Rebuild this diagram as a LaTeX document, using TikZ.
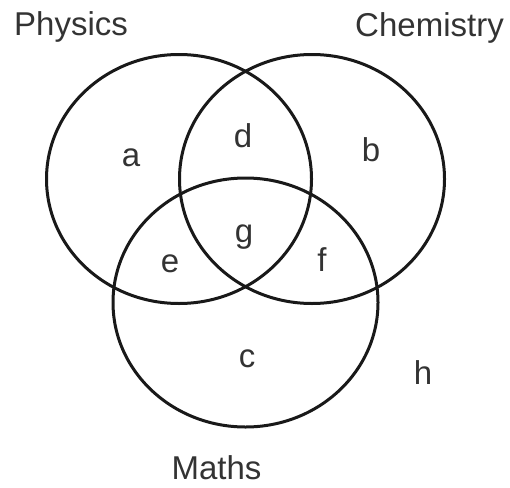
\documentclass[tikz,border=0pt]{standalone}
\usepackage{fontspec}
\setmainfont{Liberation Sans}
\begin{document}
\begin{tikzpicture}[x=1pt,y=-1pt,
  setline/.style={line width=3pt,black!90},
  lbl/.style={inner sep=0pt,anchor=base,font=\fontsize{33}{36}\selectfont,text=black!80}]
\useasboundingbox (0,0) rectangle (510,487);
% sets
\draw[setline] (179,179) ellipse [x radius=132.5, y radius=124.5];
\draw[setline] (312,179) ellipse [x radius=132.5, y radius=124.5];
\draw[setline] (245.5,302.5) ellipse [x radius=132.5, y radius=124.5];
% set names
\node[lbl] (phys) at (71,36) {Physics};
\node[lbl] (chem) at (429.5,37) {Chemistry};
\node[lbl] (math) at (216.5,479) {Maths};
% regions
\node[lbl] (ra) at (131,166) {a};
\node[lbl] (rb) at (371,161) {b};
\node[lbl] (rc) at (247,367) {c};
\node[lbl] (rd) at (243,147) {d};
\node[lbl] (re) at (170,272) {e};
\node[lbl] (rf) at (322,271) {f};
\node[lbl] (rg) at (244,242) {g};
\node[lbl] (rh) at (423,384) {h};
\end{tikzpicture}
\end{document}
